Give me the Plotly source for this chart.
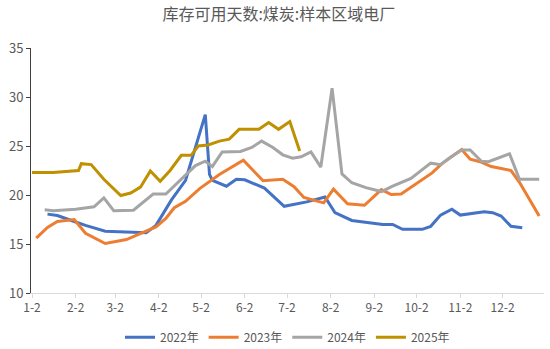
import plotly.graph_objects as go

# Coal stock usable days at sample-region power plants, by calendar date (month-day)
BASE_YEAR = "2021"

dates_2022 = ["01-13", "01-20", "02-01", "02-09", "02-23", "03-11", "03-24", "03-31",
              "04-11", "04-21", "05-05", "05-08", "05-10", "05-20", "05-27", "06-02",
              "06-16", "06-30", "07-16", "07-29", "08-05", "08-17", "08-30", "09-08",
              "09-15", "09-22", "10-06", "10-12", "10-19", "10-27", "11-02", "11-10",
              "11-19", "11-25", "12-01", "12-08", "12-16"]
values_2022 = [18.05, 17.9, 17.3, 16.9, 16.3, 16.25, 16.15, 16.9,
               19.5, 21.5, 28.2, 22.1, 21.5, 20.9, 21.6, 21.55,
               20.7, 18.85, 19.3, 19.8, 18.2, 17.4, 17.15, 17.0,
               17.0, 16.5, 16.5, 16.8, 17.95, 18.55, 17.95, 18.1,
               18.3, 18.2, 17.85, 16.8, 16.65]

dates_2023 = ["01-05", "01-13", "01-20", "02-01", "02-09", "02-23", "03-10", "03-17",
              "03-31", "04-07", "04-13", "04-21", "05-01", "05-15", "06-01", "06-15",
              "06-29", "07-07", "07-14", "07-28", "08-04", "08-14", "08-26", "09-07",
              "09-14", "09-21", "10-13", "10-20", "11-03", "11-09", "11-16", "11-24",
              "12-08", "12-14", "12-28"]
values_2023 = [15.6, 16.7, 17.3, 17.5, 16.1, 15.05, 15.45, 15.9,
               16.75, 17.6, 18.7, 19.35, 20.65, 22.1, 23.55, 21.45,
               21.6, 20.85, 19.75, 19.2, 20.6, 19.1, 18.95, 20.55,
               20.05, 20.1, 22.25, 23.2, 24.65, 23.65, 23.4, 22.9,
               22.5, 21.3, 17.85]

dates_2024 = ["01-11", "01-17", "02-02", "02-15", "02-22", "03-01", "03-15", "03-29",
              "04-07", "04-13", "04-21", "04-28", "05-05", "05-10", "05-17", "05-30",
              "06-07", "06-14", "06-22", "06-29", "07-06", "07-12", "07-19", "07-26",
              "08-03", "08-10", "08-17", "08-27", "09-07", "09-15", "09-28", "10-05",
              "10-12", "10-19", "10-26", "11-03", "11-09", "11-17", "11-22", "12-07",
              "12-14", "12-28"]
values_2024 = [18.5, 18.4, 18.55, 18.8, 19.7, 18.4, 18.45, 20.1,
               20.1, 20.9, 22.05, 23.0, 23.45, 22.9, 24.4, 24.45,
               24.85, 25.5, 24.85, 24.1, 23.75, 23.9, 24.4, 22.85,
               30.9, 22.15, 21.25, 20.75, 20.35, 20.9, 21.7, 22.5,
               23.25, 23.1, 23.85, 24.6, 24.6, 23.45, 23.4, 24.2,
               21.6, 21.6]

dates_2025 = ["01-02", "01-17", "02-04", "02-06", "02-13", "02-22", "03-06", "03-13",
              "03-20", "03-27", "04-03", "04-10", "04-18", "04-25", "04-30", "05-07",
              "05-15", "05-22", "05-29", "06-12", "06-19", "06-26", "07-04", "07-11"]
values_2025 = [22.3, 22.3, 22.5, 23.2, 23.1, 21.6, 19.95, 20.2,
               20.8, 22.45, 21.4, 22.5, 24.05, 24.05, 25.0, 25.1,
               25.5, 25.7, 26.7, 26.7, 27.4, 26.7, 27.5, 24.5]

series_names = ["2022年", "2023年", "2024年", "2025年"]
series_colors = ["#4472C4", "#ED7D31", "#A5A5A5", "#BF9000"]

tick_labels = ["1-2", "2-2", "3-2", "4-2", "5-2", "6-2", "7-2", "8-2", "9-2",
               "10-2", "11-2", "12-2"]
y_ticks = [10, 15, 20, 25, 30, 35]

FONT = "Noto Sans CJK SC, Noto Sans, sans-serif"
TEXT_COLOR = "#595959"


def on_base_year(md_list):
    return [f"{BASE_YEAR}-{md}" for md in md_list]


tick_vals = [f"{BASE_YEAR}-{lbl.split('-')[0].zfill(2)}-02" for lbl in tick_labels]

fig = go.Figure()
all_dates = [dates_2022, dates_2023, dates_2024, dates_2025]
all_values = [values_2022, values_2023, values_2024, values_2025]
for name, color, d, v in zip(series_names, series_colors, all_dates, all_values):
    fig.add_trace(go.Scatter(
        x=on_base_year(d), y=v, name=name, mode="lines",
        line=dict(color=color, width=3),
    ))

fig.update_layout(
    width=550, height=349,
    margin=dict(l=31, r=6, t=48, b=56, autoexpand=False),
    paper_bgcolor="white", plot_bgcolor="white",
    font=dict(family=FONT, color=TEXT_COLOR, size=12),
    title=dict(text="库存可用天数:煤炭:样本区域电厂", x=0.507, xanchor="center",
               y=0.958, yanchor="middle",
               font=dict(family=FONT, size=16, color=TEXT_COLOR)),
    showlegend=True,
    legend=dict(orientation="h", x=0.5, xanchor="center",
                yref="container", y=0.034, yanchor="middle",
                font=dict(family=FONT, size=12, color=TEXT_COLOR),
                itemwidth=30, tracegroupgap=0),
)

fig.update_xaxes(
    type="date",
    range=[f"{BASE_YEAR}-01-01 07:00", f"{BASE_YEAR}-12-31 10:00"],
    tickvals=tick_vals, ticktext=tick_labels,
    showgrid=False, zeroline=False,
    showline=True, linecolor="#D9D9D9", linewidth=1,
    ticks="outside", ticklen=4, tickcolor="#D9D9D9",
    tickfont=dict(family=FONT, size=12, color=TEXT_COLOR),
)
fig.update_yaxes(
    range=[10, 35], tickvals=y_ticks,
    showgrid=False, zeroline=False,
    showline=True, linecolor="#404040", linewidth=1,
    ticks="outside", ticklen=4, tickcolor="#404040",
    tickfont=dict(family=FONT, size=13, color=TEXT_COLOR),
)

fig.write_html("out.html")
